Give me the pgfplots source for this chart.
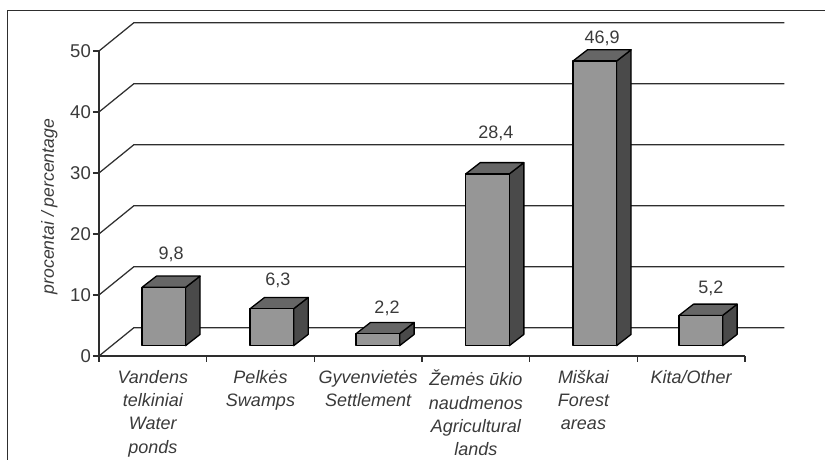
\documentclass[border=0pt]{standalone}
\usepackage{pgfplots}
\pgfplotsset{compat=1.18}
\usepackage{fontspec}
\setmainfont{Liberation Sans}
\definecolor{ink}{HTML}{2E2E2E}
\definecolor{txt}{HTML}{3A3A3A}
\definecolor{barfront}{HTML}{969696}
\definecolor{bartop}{HTML}{666666}
\definecolor{barside}{HTML}{4A4A4A}
% #1 left edge of the front face (category units), #2 drawn height of the bar
\newcommand\DrawBar[2]{%
  \pgfmathsetmacro\xa{#1}%
  \pgfmathsetmacro\xb{#1+0.405}%
  \pgfmathsetmacro\xc{#1+0.405+0.135}%
  \pgfmathsetmacro\xd{#1+0.135}%
  \pgfmathsetmacro\ya{1.69}%
  \pgfmathsetmacro\yb{#2+1.45}%
  \pgfmathsetmacro\yc{#2+1.45+1.85}%
  \pgfmathsetmacro\ye{1.69+1.85}%
  \addplot[fill=barside,draw=black,line width=1.3pt,line join=round] coordinates {(\xb,\ya) (\xc,\ye) (\xc,\yc) (\xb,\yb)} --cycle;
  \addplot[fill=bartop,draw=black,line width=1.3pt,line join=round] coordinates {(\xa,\yb) (\xb,\yb) (\xc,\yc) (\xd,\yc)} --cycle;
  \addplot[fill=barfront,draw=black,line width=1.3pt,line join=round] coordinates {(\xa,\ya) (\xb,\ya) (\xb,\yb) (\xa,\yb)} --cycle;
}
% #1 value on the front plane of the chart
\newcommand\DrawWall[1]{%
  \pgfmathsetmacro\yback{#1+4.65}%
  \addplot[ink,line width=1.25pt] coordinates {(0,#1) (0.325,\yback) (6.365,\yback)};
}
\begin{document}
\begin{tikzpicture}
\path[use as bounding box] (0,0) rectangle (825pt,460pt);
\draw[ink,line width=1pt] (7pt,0pt) -- (7pt,449pt) -- (825pt,449pt);
\begin{axis}[
  at={(99pt,104pt)}, anchor=south west,
  scale only axis, width=646pt, height=305pt,
  xmin=0, xmax=6, ymin=0, ymax=50,
  axis lines=left, axis line style={-,draw=ink,line width=1.25pt},
  clip=false, tick align=outside,
  ytick={0,10,20,30,40,50},
  xtick={0.5,1.5,2.5,3.5,4.5,5.5},
  xticklabels={{Vandens\\telkiniai\\Water\\ponds},{Pelkės\\Swamps},{Gyvenvietės\\Settlement},{Žemės ūkio\\naudmenos\\Agricultural\\lands},{Miškai\\Forest\\areas},{Kita/Other}},
  minor xtick={0,1,2,3,4,5,6},
  major x tick style={draw=none},
  minor x tick style={draw=ink,line width=1.1pt},
  major y tick style={draw=ink,line width=1.1pt},
  major tick length=6pt, minor tick length=6pt,
  /pgf/number format/assume math mode=true,
  yticklabel style={font=\fontsize{18.5}{20}\selectfont,text=txt,inner xsep=0pt,xshift=-2pt},
  xticklabel style={font=\fontsize{18}{23.3}\selectfont\itshape,text=txt,align=center,anchor=north,yshift=-7pt,inner ysep=1pt},
  ylabel={procentai / percentage},
  every axis y label/.style={at={(axis description cs:-0.077,0.49)},rotate=90,anchor=center,font=\fontsize{17.6}{20}\selectfont\itshape,text=txt},
]
\DrawWall{0}\DrawWall{10}\DrawWall{20}\DrawWall{30}\DrawWall{40}\DrawWall{50}
\DrawBar{0.399}{9.8}
\DrawBar{1.403}{6.3}
\DrawBar{2.387}{2.2}
\DrawBar{3.406}{28.4}
\DrawBar{4.402}{46.9}
\DrawBar{5.387}{5.2}
\addplot[draw=none,mark=none,
  nodes near coords, point meta=explicit symbolic,
  every node near coord/.style={anchor=base,inner sep=0pt,font=\fontsize{18}{20}\selectfont,text=txt}]
  table[meta=lab,x=x,y=y] {
x y lab
0.669 15.74 {9,8}
1.662 11.48 {6,3}
2.675 6.9 {2,2}
3.687 35.7 {28,4}
4.672 51.3 {46,9}
5.684 10.3 {5,2}
};
\end{axis}
\end{tikzpicture}
\end{document}
